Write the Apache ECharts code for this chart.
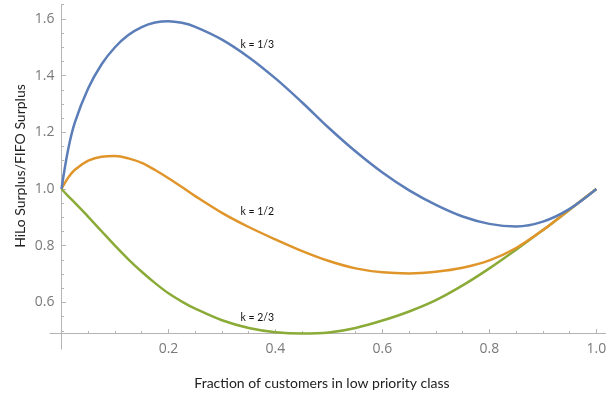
<!DOCTYPE html>
<html>
<head>
<meta charset="utf-8">
<script src="https://cdn.jsdelivr.net/npm/echarts@6/dist/echarts.min.js"></script>
<style>
html,body{margin:0;padding:0;background:#fff;}
#chart{width:606px;height:399px;}
</style>
</head>
<body>
<div id="chart"></div>
<script>
// ---- data ----
const xValues = [0, 0.0125, 0.025, 0.05, 0.075, 0.1, 0.125, 0.15, 0.175, 0.2, 0.225, 0.25, 0.3, 0.35, 0.4, 0.45, 0.5, 0.55, 0.6, 0.65, 0.7, 0.75, 0.8, 0.85, 0.9, 0.95, 1.0];
const k13 = [1.0, 1.14, 1.235, 1.355, 1.44, 1.50, 1.543, 1.571, 1.587, 1.592, 1.586, 1.572, 1.527, 1.465, 1.39, 1.305, 1.215, 1.132, 1.058, 0.995, 0.944, 0.903, 0.877, 0.868, 0.885, 0.93, 1.0];
const k12 = [1.0, 1.04, 1.068, 1.10, 1.114, 1.116, 1.108, 1.092, 1.067, 1.038, 1.007, 0.975, 0.916, 0.866, 0.822, 0.781, 0.746, 0.72, 0.706, 0.702, 0.708, 0.722, 0.748, 0.792, 0.855, 0.928, 1.0];
const k23 = [1.0, 0.975, 0.951, 0.902, 0.851, 0.80, 0.752, 0.708, 0.668, 0.632, 0.603, 0.578, 0.537, 0.51, 0.495, 0.49, 0.494, 0.51, 0.536, 0.568, 0.608, 0.66, 0.72, 0.786, 0.855, 0.927, 1.0];
const seriesNames = ['k = 1/3', 'k = 1/2', 'k = 2/3'];
const labelX = [0.366, 0.366, 0.366];
const labelY = [1.508, 0.919, 0.545];
const xTicks = [0, 0.2, 0.4, 0.6, 0.8, 1.0];
const xTickLabels = [0.2, 0.4, 0.6, 0.8, 1.0];
const yTicks = [0.6, 0.8, 1.0, 1.2, 1.4, 1.6];
const yMinorTicks = [0.5, 0.55, 0.65, 0.7, 0.75, 0.85, 0.9, 0.95, 1.05, 1.1, 1.15, 1.25, 1.3, 1.35, 1.45, 1.5, 1.55, 1.65];
const xTitle = 'Fraction of customers in low priority class';
const yTitle = 'HiLo Surplus/FIFO Surplus';

const colors = ['#5b7db8', '#e0952a', '#8aab37'];
const allSeries = [k13, k12, k23];

const axisGray = '#b4b4b4';
const labelGray = '#7a7a7a';

const chart = echarts.init(document.getElementById('chart'), null, {renderer: 'canvas'});

const series = allSeries.map((vals, i) => ({
  name: seriesNames[i],
  type: 'line',
  xAxisIndex: 0,
  yAxisIndex: 0,
  data: xValues.map((x, j) => [x, vals[j]]),
  showSymbol: false,
  smooth: 0.35,
  lineStyle: {color: colors[i], width: 2.5},
  itemStyle: {color: colors[i]},
  z: 3 - i,
  markPoint: {
    symbol: 'circle',
    symbolSize: 1,
    itemStyle: {color: 'rgba(0,0,0,0)'},
    label: {
      show: true,
      position: 'inside',
      formatter: seriesNames[i],
      color: '#111',
      fontFamily: 'Lato',
      fontSize: 10.5
    },
    data: [{coord: [labelX[i], labelY[i]]}]
  }
}));

chart.setOption({
  animation: false,
  backgroundColor: '#fff',
  grid: {left: 50, right: 0, top: 4.7, bottom: 49.8, containLabel: false, outerBoundsMode: 'none'},
  xAxis: {
    type: 'value',
    min: -0.0215,
    max: 1.018,
    offset: -15.6,
    axisLine: {show: true, onZero: false, lineStyle: {color: axisGray, width: 1}},
    axisTick: {show: true, inside: true, length: 4.5, customValues: xTicks, lineStyle: {color: axisGray}},
    minorTick: {show: true, splitNumber: 4, length: 2.5, lineStyle: {color: axisGray}},
    axisLabel: {
      customValues: xTickLabels,
      color: labelGray, fontFamily: 'Open Sans', fontSize: 14, margin: 8,
      formatter: v => v.toFixed(1)
    },
    splitLine: {show: false},
    minorSplitLine: {show: false}
  },
  yAxis: [{
    type: 'value',
    min: 0.435,
    max: 1.65,
    offset: -11.5,
    axisLine: {show: true, onZero: false, lineStyle: {color: axisGray, width: 1}},
    axisTick: {show: true, inside: true, length: 4.5, customValues: yTicks, lineStyle: {color: axisGray}},
    axisLabel: {
      customValues: yTicks,
      color: labelGray, fontFamily: 'Open Sans', fontSize: 14, margin: 7,
      formatter: v => v.toFixed(1)
    },
    splitLine: {show: false}
  }, {
    type: 'value',
    min: 0.435,
    max: 1.65,
    offset: -11.5,
    position: 'left',
    axisLine: {show: false, onZero: false},
    axisTick: {show: true, inside: true, length: 2.5, customValues: yMinorTicks, lineStyle: {color: axisGray}},
    axisLabel: {show: false},
    splitLine: {show: false}
  }],
  graphic: [{
    type: 'text',
    x: 322, y: 383,
    style: {text: xTitle, align: 'center', verticalAlign: 'middle', fill: '#222', font: '14px Lato'}
  }, {
    type: 'text',
    x: 20, y: 166,
    rotation: Math.PI / 2,
    style: {text: yTitle, align: 'center', verticalAlign: 'middle', fill: '#222', font: '14px Lato'}
  }],
  series: series
});
</script>
</body>
</html>
